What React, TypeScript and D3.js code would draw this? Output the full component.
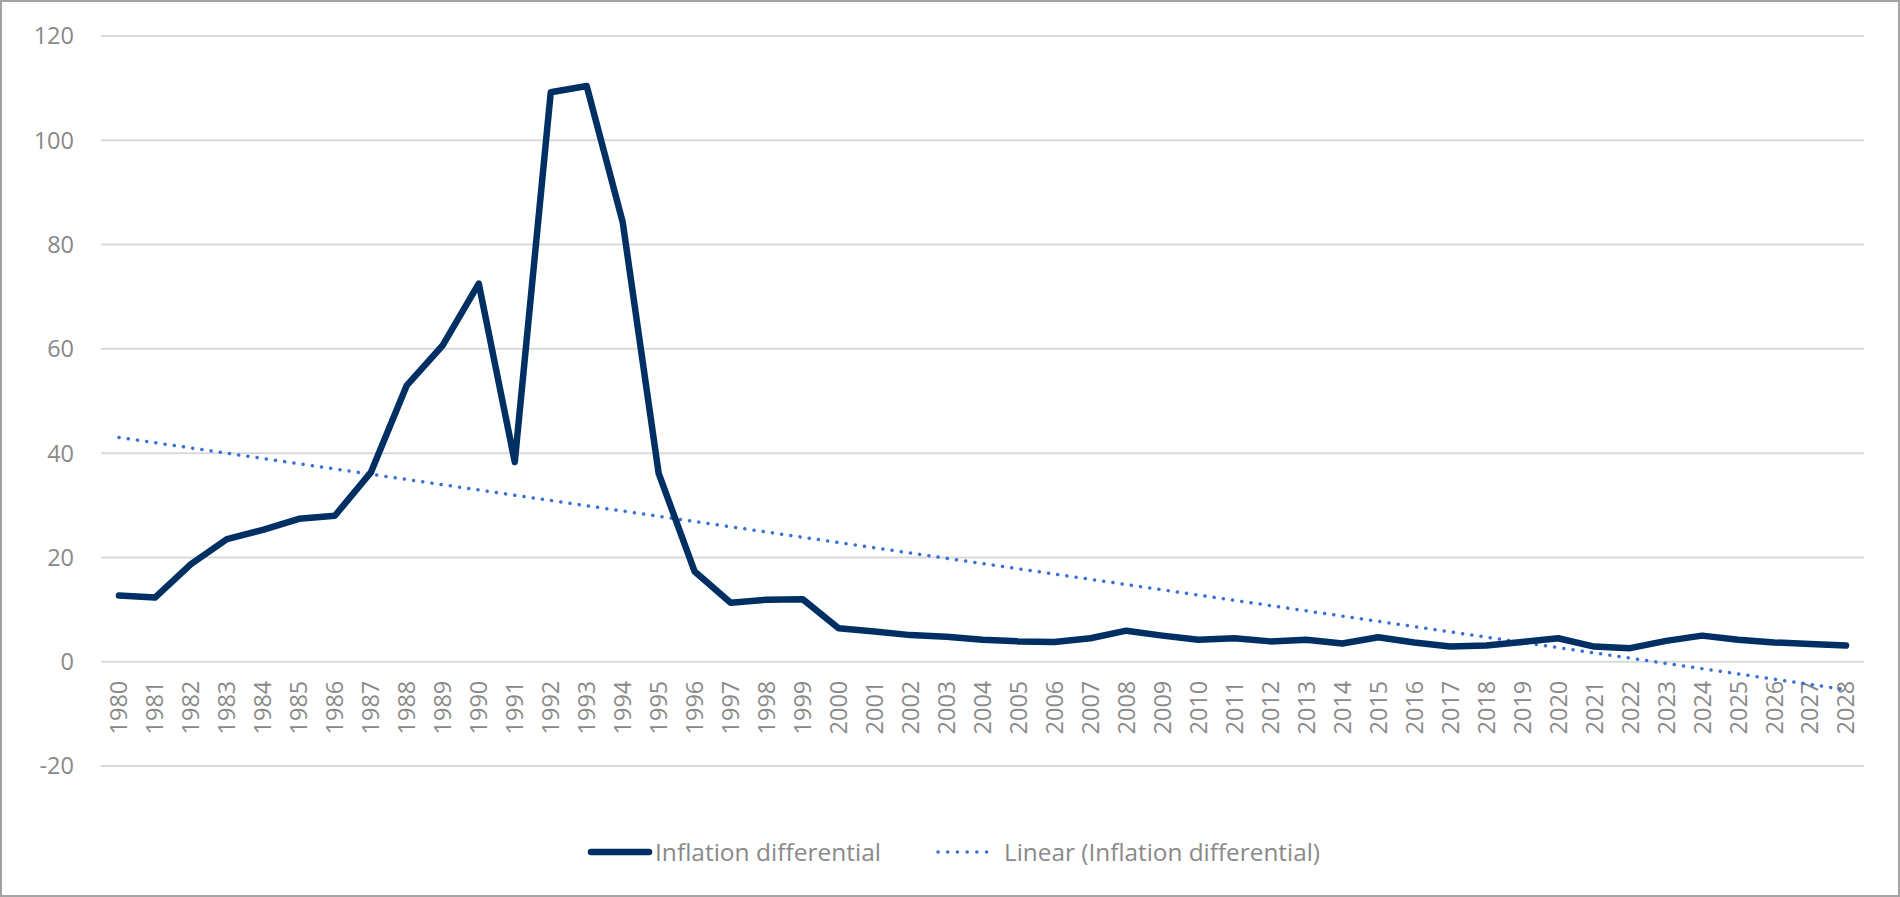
import * as React from "react"
import { useEffect, useRef } from "react"
import * as d3 from "d3"

const years = d3.range(1980, 2029).map(String)

const inflationDiff = [
  12.7, 12.3, 18.7, 23.5, 25.3, 27.4, 28.0, 36.3, 53.0, 60.7,
  72.5, 38.3, 109.2, 110.4, 84.3, 36.1, 17.3, 11.3, 11.9, 12.0,
  6.4, 5.8, 5.1, 4.8, 4.2, 3.9, 3.8, 4.5, 5.95, 5.0,
  4.2, 4.5, 3.9, 4.2, 3.5, 4.7, 3.7, 2.9, 3.1, 3.8,
  4.5, 2.9, 2.6, 4.0, 5.0, 4.2, 3.7, 3.4, 3.1,
]

const yTicks = [-20, 0, 20, 40, 60, 80, 100, 120]

const seriesName = "Inflation differential"
const trendName = "Linear (Inflation differential)"

const W = 1900
const H = 897
const FONT = "'Open Sans', 'Liberation Sans', sans-serif"
const TEXT = "#898989"
const NAVY = "#002f63"
const BLUE = "#3b6fd6"

export default function App() {
  const svgRef = useRef<SVGSVGElement | null>(null)

  useEffect(() => {
    if (!svgRef.current) return
    const svg = d3.select(svgRef.current)
    svg.selectAll("*").remove()

    const margin = { left: 101, right: 36, top: 36, bottom: 131 }

    const x = d3.scaleBand<string>()
      .domain(years)
      .range([margin.left, W - margin.right])

    const y = d3.scaleLinear()
      .domain([-20, 120])
      .range([H - margin.bottom, margin.top])

    const cx = (d: string) => (x(d) as number) + x.bandwidth() / 2

    // outer border
    svg.append("rect")
      .attr("x", 1).attr("y", 1)
      .attr("width", W - 2).attr("height", H - 2)
      .attr("fill", "#fff")
      .attr("stroke", "#a3a3a3")
      .attr("stroke-width", 2)

    // gridlines
    svg.append("g")
      .selectAll("line")
      .data(yTicks)
      .join("line")
      .attr("x1", margin.left)
      .attr("x2", W - margin.right)
      .attr("y1", d => y(d))
      .attr("y2", d => y(d))
      .attr("stroke", "#d9d9d9")
      .attr("stroke-width", 2)

    // y labels
    svg.append("g")
      .selectAll("text")
      .data(yTicks)
      .join("text")
      .attr("x", 74)
      .attr("y", d => y(d))
      .attr("dy", "0.36em")
      .attr("text-anchor", "end")
      .attr("font-family", FONT)
      .attr("font-size", 23.5)
      .attr("fill", TEXT)
      .text(d => d)

    // x labels
    svg.append("g")
      .selectAll("text")
      .data(years)
      .join("text")
      .attr("transform", d => `translate(${cx(d)},${y(0) + 19}) rotate(-90)`)
      .attr("dy", "0.36em")
      .attr("text-anchor", "end")
      .attr("font-family", FONT)
      .attr("font-size", 23.5)
      .attr("fill", TEXT)
      .text(d => d)

    // linear trend (least squares over category index, like Excel)
    const n = inflationDiff.length
    const mt = (n - 1) / 2
    const my = d3.mean(inflationDiff) as number
    const slope = d3.sum(inflationDiff, (v, i) => (i - mt) * (v - my)) /
      d3.sum(inflationDiff, (_, i) => (i - mt) ** 2)
    const trend = [0, n - 1].map(i => ({ year: years[i], v: my + slope * (i - mt) }))

    svg.append("path")
      .datum(trend)
      .attr("fill", "none")
      .attr("stroke", BLUE)
      .attr("stroke-width", 3.5)
      .attr("stroke-linecap", "round")
      .attr("stroke-dasharray", "0.1 9.2")
      .attr("d", d3.line<{ year: string; v: number }>().x(d => cx(d.year)).y(d => y(d.v)))

    // main series
    svg.append("path")
      .datum(inflationDiff)
      .attr("fill", "none")
      .attr("stroke", NAVY)
      .attr("stroke-width", 6.5)
      .attr("stroke-linecap", "round")
      .attr("stroke-linejoin", "round")
      .attr("d", d3.line<number>().x((_, i) => cx(years[i])).y(d => y(d)))

    // legend
    const ly = 852
    const leg = svg.append("g")
    leg.append("line")
      .attr("x1", 591).attr("x2", 649)
      .attr("y1", ly).attr("y2", ly)
      .attr("stroke", NAVY).attr("stroke-width", 6.5)
      .attr("stroke-linecap", "round")
    leg.append("text")
      .attr("x", 655).attr("y", ly).attr("dy", "0.36em")
      .attr("font-family", FONT).attr("font-size", 24.5)
      .attr("fill", TEXT)
      .attr("textLength", 226).attr("lengthAdjust", "spacingAndGlyphs")
      .text(seriesName)
    leg.append("line")
      .attr("x1", 938).attr("x2", 996)
      .attr("y1", ly).attr("y2", ly)
      .attr("stroke", BLUE).attr("stroke-width", 3.5)
      .attr("stroke-linecap", "round")
      .attr("stroke-dasharray", "0.1 9.6")
    leg.append("text")
      .attr("x", 1004).attr("y", ly).attr("dy", "0.36em")
      .attr("font-family", FONT).attr("font-size", 24.5)
      .attr("fill", TEXT)
      .attr("textLength", 316).attr("lengthAdjust", "spacingAndGlyphs")
      .text(trendName)
  }, [])

  return (
    <svg
      ref={svgRef}
      width={W}
      height={H}
      style={{ position: "absolute", left: 0, top: 0, display: "block" }}
    />
  )
}
